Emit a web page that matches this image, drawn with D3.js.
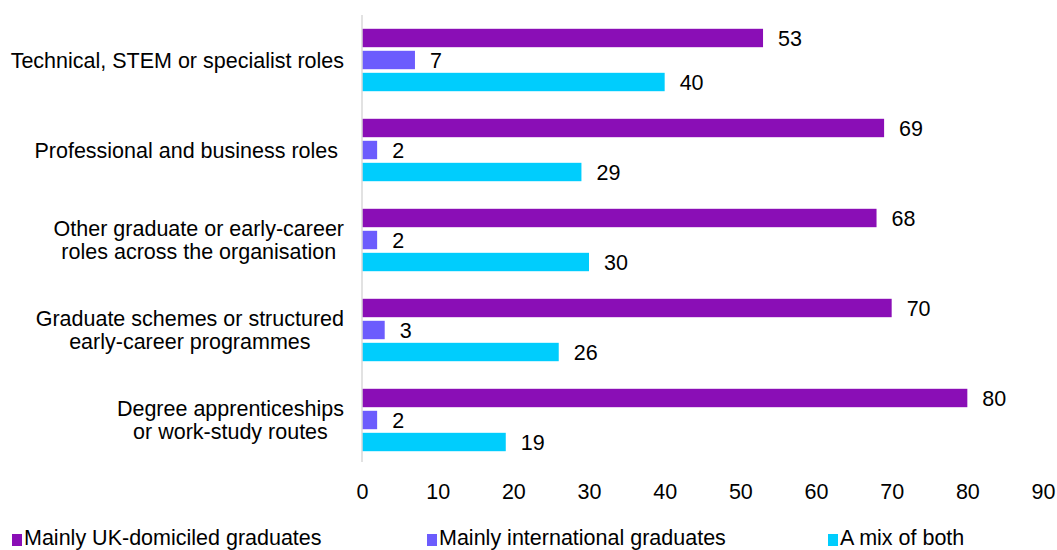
<!DOCTYPE html>
<html>
<head>
<meta charset="utf-8">
<script src="https://cdn.jsdelivr.net/npm/d3@7/dist/d3.min.js"></script>
<style>
  html, body { margin: 0; padding: 0; background: #fff; }
  svg { display: block; font-family: "Liberation Sans", Arial, sans-serif; }
  text { white-space: pre; }
</style>
</head>
<body>
<svg id="chart" width="1057" height="550"></svg>
<script>
// Role categories (each label split into its display lines)
const categories = [
  ["Technical, STEM or specialist roles"],
  ["Professional and business roles "],
  ["Other graduate or early-career", "roles across the organisation"],
  ["Graduate schemes or structured", "early-career programmes"],
  ["Degree apprenticeships", "or work-study routes"]
];
const seriesNames = ["Mainly UK-domiciled graduates", "Mainly international graduates", "A mix of both"];
const seriesColors = ["#8a0eb6", "#6c5cfd", "#00cdfd"];
const ukValues = [53, 69, 68, 70, 80];
const intlValues = [7, 2, 2, 3, 2];
const mixValues = [40, 29, 30, 26, 19];
const xTicks = [0, 10, 20, 30, 40, 50, 60, 70, 80, 90];

const seriesValues = [ukValues, intlValues, mixValues];

const FS = 21.5;
const svg = d3.select("#chart");
const margin = { left: 362, top: 15, bottom: 85 };
const height = 550;

const x = d3.scaleLinear().domain([0, 90]).range([margin.left, 1043]);
const y = d3.scaleBand().domain(d3.range(categories.length))
  .range([margin.top, height - margin.bottom]);
const inner = d3.scaleBand().domain(d3.range(seriesNames.length))
  .range([0, y.bandwidth()]).paddingInner(0.164).paddingOuter(0.627);

// Bars with value labels
categories.forEach((cat, ci) => {
  const g = svg.append("g").attr("transform", `translate(0,${y(ci)})`);
  seriesValues.forEach((vals, si) => {
    g.append("rect")
      .attr("x", x(0))
      .attr("y", inner(si))
      .attr("width", x(vals[ci]) - x(0))
      .attr("height", inner.bandwidth())
      .attr("fill", seriesColors[si]);
    g.append("text")
      .attr("x", x(vals[ci]) + 15)
      .attr("y", inner(si) + inner.bandwidth() / 2)
      .attr("dy", "0.36em")
      .attr("font-size", FS)
      .attr("fill", "#000")
      .text(vals[ci]);
  });
});

// Vertical category axis line
svg.append("line")
  .attr("x1", x(0)).attr("x2", x(0))
  .attr("y1", margin.top).attr("y2", height - margin.bottom - 3)
  .attr("stroke", "#d9d9d9").attr("stroke-width", 1.5);

// Category labels: lines centred on each other, block right-aligned
const labelRight = 344;
categories.forEach((lines, ci) => {
  const cy = y(ci) + y.bandwidth() / 2;
  const lh = 22.5;
  const g = svg.append("g");
  const texts = lines.map((ln, li) => g.append("text")
    .attr("y", cy + (li - (lines.length - 1) / 2) * lh)
    .attr("dy", "0.36em")
    .attr("font-size", FS)
    .attr("fill", "#000")
    .attr("text-anchor", "middle")
    .text(ln));
  const maxW = d3.max(texts, t => t.node().getComputedTextLength());
  texts.forEach(t => t.attr("x", labelRight - maxW / 2));
});

// X axis tick labels
const xAxis = d3.axisBottom(x).tickValues(xTicks).tickSize(0).tickPadding(0);
const ax = svg.append("g").attr("transform", "translate(0,491)").call(xAxis);
ax.select(".domain").remove();
ax.selectAll("text")
  .attr("font-size", FS)
  .attr("font-family", "Liberation Sans, Arial, sans-serif")
  .attr("fill", "#000")
  .attr("y", 0)
  .attr("dy", "0.36em");

// Legend
const legendX = [12, 427, 828];
seriesNames.forEach((name, si) => {
  const g = svg.append("g").attr("transform", `translate(${legendX[si]},0)`);
  g.append("rect").attr("x", 0).attr("y", 534).attr("width", 10).attr("height", 12)
    .attr("fill", seriesColors[si]);
  g.append("text").attr("x", 12).attr("y", 545)
    .attr("font-size", FS).attr("fill", "#000").text(name);
});
</script>
</body>
</html>
